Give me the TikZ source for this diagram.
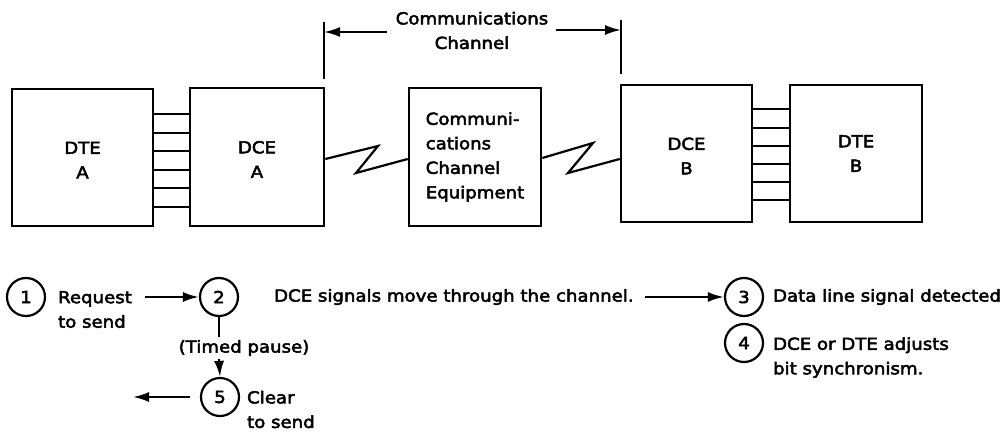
\documentclass[tikz,border=0pt]{standalone}
\usepackage{fontspec}
\setmainfont{DejaVu Sans}[FakeStretch=1.1,FakeBold=3]
\usetikzlibrary{arrows.meta,calc}
\begin{document}
\begin{tikzpicture}[x=1pt,y=-1pt,
  font=\fontsize{16.5}{24.5}\selectfont,
  line width=2.2pt,
  blk/.style={draw,line width=2.6pt,rectangle,inner sep=0pt,align=center},
  num/.style={draw,circle,line width=2.2pt,minimum size=38pt,inner sep=0pt},
  lbl/.style={inner sep=0pt,align=left,anchor=west},
  arr/.style={-{Latex[length=16pt,width=10pt]}}]
\useasboundingbox (0,0) rectangle (1006,433);
% boxes
\node[blk,minimum width=141pt,minimum height=137pt] (dtea) at (82.5,157.5) {\strut DTE\\A};
\node[blk,minimum width=134pt,minimum height=138pt] (dcea) at (257,157) {\strut DCE\\A};
\node[blk,minimum width=132pt,minimum height=138pt,align=left] (comm) at (475,157) {Communi-\\cations\\Channel\\Equipment};
\node[blk,minimum width=131pt,minimum height=137pt] (dceb) at (686.5,153.5) {\strut DCE\\B};
\node[blk,minimum width=132pt,minimum height=137pt] (dteb) at (856,153.5) {DTE\\B};
% interface lines
\foreach \yy in {114,133,151,170,188,207}
  \draw (dtea.east |- 0,\yy) -- (dcea.west |- 0,\yy);
\foreach \yy in {109,128,146,164,182,200}
  \draw (dceb.east |- 0,\yy) -- (dteb.west |- 0,\yy);
% zigzag links
\draw (dcea.east |- 0,159) -- (378,146) -- (356,173) -- (comm.west |- 0,159);
\draw (comm.east |- 0,158) -- (593,143) -- (568,173) -- (dceb.west |- 0,159);
% communications channel dimension
\node[inner sep=0pt,align=center] (ccl) at (472,30.5) {Communications\\Channel};
\coordinate (lt1) at (324,22);
\coordinate (lt2) at (324,79);
\coordinate (rt1) at (621,20);
\coordinate (rt2) at (621,74);
\draw (lt1) -- (lt2);
\draw (rt1) -- (rt2);
\draw[arr] ($(ccl.west)+(-8,1.5)$) -- (lt1 |- 0,32);
\draw[arr] ($(ccl.east)+(7,-0.5)$) -- (rt1 |- 0,30);
% sequence
\node[num] (c1) at (26,297) {1};
\node[lbl] (req) at (57,309.5) {Request\\to send};
\node[num] (c2) at (219,297) {2};
\coordinate (a1) at (145,297);
\draw[arr] (a1) -- (c2.west);
\node[inner sep=2pt] (tp) at (244,348) {(Timed pause)};
\node[num] (c5) at (220,397) {5};
\draw (c2.south) -- (c2.south |- tp.north);
\draw[arr] (c2.south |- tp.south) -- (c5.north);
\node[lbl] (clr) at (246,409.5) {Clear\\to send};
\coordinate (a5) at (133,397);
\draw[arr] ($(c5.west)+(-10,0)$) -- (a5);
\node[num] (c3) at (744,297) {3};
\node[lbl] (dsig) at (273,297) {DCE signals move through the channel.};
\draw[arr] ($(dsig.east)+(10,0)$) -- (c3.west);
\node[lbl] (det) at (772,297) {Data line signal detected};
\node[num] (c4) at (744,343) {4};
\node[lbl] (adj) at (772,357.5) {DCE or DTE adjusts\\bit synchronism.};
\end{tikzpicture}
\end{document}
